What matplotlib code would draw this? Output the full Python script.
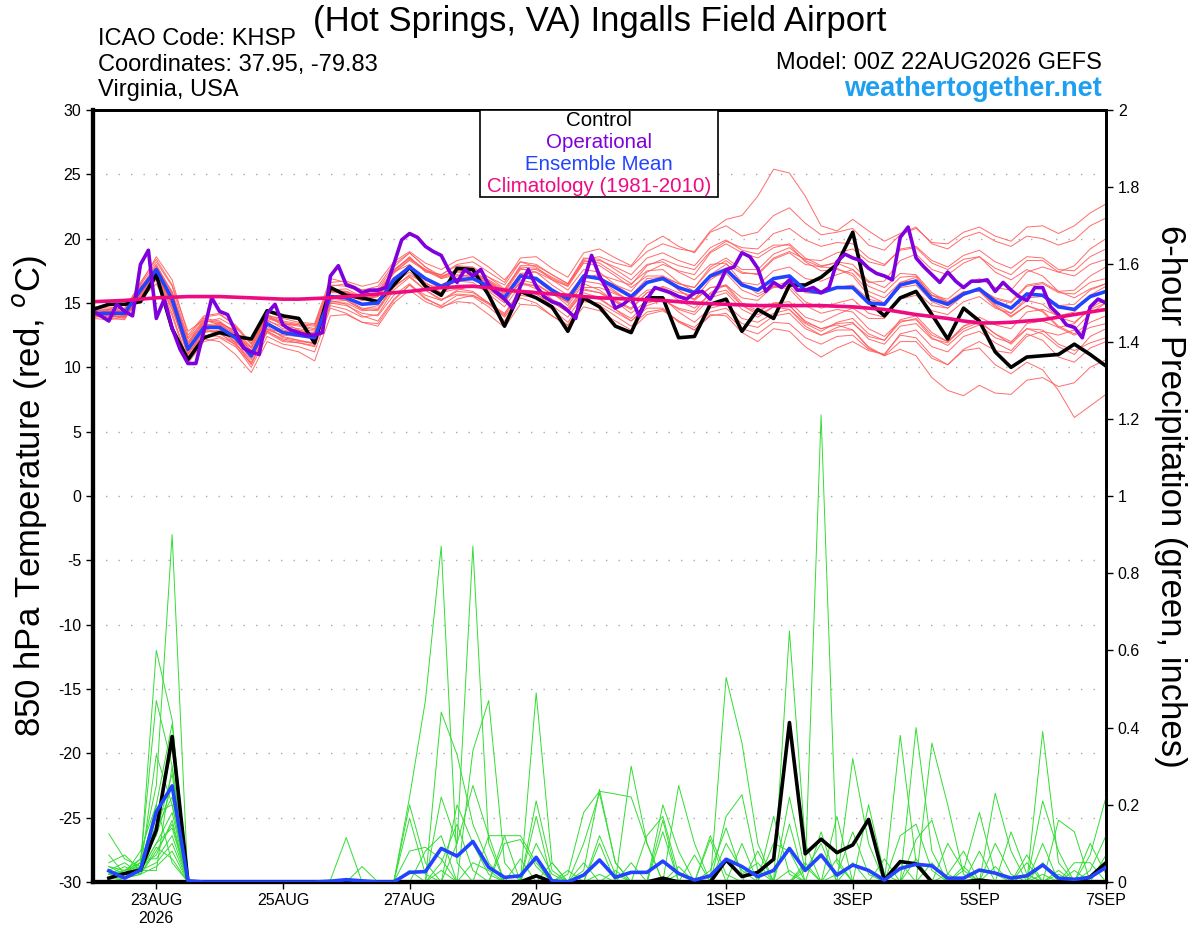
import pandas as pd
import matplotlib
matplotlib.use('Agg')
import matplotlib.pyplot as plt
from matplotlib.patches import Rectangle
from matplotlib.ticker import FormatStrFormatter

plt.rcParams['font.family'] = ['Liberation Sans', 'DejaVu Sans']
plt.rcParams['axes.unicode_minus'] = False

# ---- data ----
run_start = '2026-08-22 00:00'

tick_dates = ['2026-08-23', '2026-08-25', '2026-08-27', '2026-08-29',
              '2026-09-01', '2026-09-03', '2026-09-05', '2026-09-07']
tick_labels = ['23AUG\n2026', '25AUG', '27AUG', '29AUG', '1SEP', '3SEP', '5SEP', '7SEP']

# 850 hPa temperature, 6-hourly from 22AUG 00Z
control_temp = [14.5, 14.9, 14.9, 15.1, 17.2, 13.0, 10.6, 12.3,
                12.7, 12.4, 12.2, 14.4, 14.0, 13.8, 11.9, 16.2,
                15.6, 15.4, 15.1, 16.4, 17.8, 16.3, 15.6, 17.7,
                17.6, 15.6, 13.2, 15.9, 15.4, 14.7, 12.8, 15.4,
                14.7, 13.2, 12.7, 15.4, 15.4, 12.3, 12.4, 14.9,
                15.3, 12.8, 14.5, 13.8, 16.4, 16.4, 17.0, 18.0,
                20.5, 15.1, 14.0, 15.4, 15.9, 14.1, 12.2, 14.6,
                13.6, 11.2, 10.0, 10.8, 10.9, 11.0, 11.8, 11.0,
                10.1]

mean_temp = [14.2, 14.2, 14.2, 16.0, 17.6, 15.3, 11.4, 13.1,
             13.1, 12.3, 10.9, 13.4, 12.7, 12.5, 12.3, 15.5,
             15.4, 14.9, 15.0, 16.8, 17.8, 16.9, 16.3, 16.8,
             16.9, 16.3, 15.4, 17.1, 16.9, 16.0, 15.3, 17.1,
             16.9, 16.2, 15.5, 16.6, 16.9, 16.2, 15.8, 17.1,
             17.6, 16.4, 16.0, 16.9, 17.1, 16.0, 15.8, 16.2,
             16.2, 15.0, 14.9, 16.4, 16.7, 15.3, 14.9, 15.7,
             16.1, 15.1, 14.6, 15.7, 15.6, 14.7, 14.5, 15.5,
             15.9]

clim_temp = [15.1, 15.15, 15.2, 15.3, 15.4, 15.45, 15.5, 15.5,
             15.5, 15.45, 15.4, 15.35, 15.3, 15.3, 15.35, 15.4,
             15.5, 15.6, 15.7, 15.8, 15.9, 16.05, 16.2, 16.25,
             16.3, 16.2, 16.0, 15.9, 15.8, 15.7, 15.6, 15.5,
             15.4, 15.35, 15.3, 15.25, 15.2, 15.1, 15.0, 14.95,
             14.9, 14.85, 14.8, 14.8, 14.8, 14.8, 14.8, 14.75,
             14.7, 14.6, 14.5, 14.3, 14.1, 13.95, 13.8, 13.6,
             13.45, 13.45, 13.5, 13.6, 13.7, 13.9, 14.1, 14.3,
             14.5]

# operational run, 3-hourly
oper_temp = [14.35, 14.0, 13.6, 14.9, 14.35, 14.0, 18.0, 19.1, 13.8, 15.3,
             13.05, 11.4, 10.3, 10.3, 12.8, 15.4, 14.35, 14.1, 12.8, 11.5,
             11.2, 11.0, 14.2, 14.9, 13.3, 12.9, 12.7, 12.5, 12.5, 12.7,
             17.1, 17.9, 16.4, 16.2, 15.8, 16.0, 16.0, 16.2, 18.0, 19.9,
             20.4, 20.1, 19.4, 19.0, 18.7, 17.5, 16.6, 17.6, 17.1, 17.6,
             16.4, 15.8, 15.3, 14.6, 16.3, 17.6, 16.3, 15.5, 15.1, 14.9,
             14.4, 13.8, 16.7, 18.7, 17.1, 16.0, 14.6, 14.9, 15.4, 14.0,
             15.3, 16.2, 16.0, 15.8, 15.5, 15.3, 15.8, 15.9, 15.3, 16.3,
             17.6, 17.8, 18.9, 18.6, 17.7, 15.9, 16.6, 16.2, 16.8, 16.0,
             16.0, 16.2, 15.8, 16.2, 18.2, 18.8, 18.5, 18.3, 17.7, 17.3,
             17.1, 16.8, 20.1, 20.9, 18.5, 17.8, 17.2, 16.6, 17.4, 16.7,
             16.2, 16.7, 16.7, 16.8, 15.9, 16.6, 16.0, 15.5, 15.2, 16.2,
             16.2, 14.7, 14.1, 13.3, 13.1, 12.3, 14.7, 15.3, 15.0]

temp_members = [
    [14.5, 14.4, 14.3, 16.4, 18.2, 16.3, 12.2, 13.6, 13.5, 12.8, 11.2, 13.9, 13.4, 13.2, 12.9, 16.0,
     16.1, 15.5, 15.8, 17.5, 18.6, 17.4, 17.2, 17.9, 17.8, 17.0, 16.4, 18.2, 18.0, 17.2, 16.5, 18.4,
     18.6, 18.1, 17.8, 19.0, 19.6, 19.2, 19.0, 20.6, 21.5, 21.8, 23.3, 25.4, 25.1, 23.3, 21.0, 20.6,
     21.5, 20.6, 19.8, 20.4, 20.9, 19.6, 19.2, 20.1, 20.5, 19.8, 19.4, 20.2, 20.0, 19.5, 19.9, 21.0, 21.6],
    [14.0, 14.1, 14.4, 15.8, 17.4, 15.0, 11.8, 13.3, 13.4, 12.5, 11.5, 13.9, 13.5, 12.9, 12.6, 15.9,
     15.9, 15.2, 15.6, 17.4, 18.3, 17.5, 17.2, 18.0, 18.2, 17.4, 16.6, 18.5, 18.6, 17.7, 17.0, 18.9,
     19.2, 18.5, 17.9, 19.5, 20.2, 19.4, 18.9, 20.5, 21.0, 20.2, 20.5, 21.8, 22.4, 21.2, 20.3, 20.5,
     20.8, 19.5, 19.1, 20.3, 20.8, 19.7, 19.6, 20.5, 20.9, 20.2, 19.8, 20.9, 21.0, 20.4, 21.0, 22.0, 22.7],
    [14.3, 14.0, 13.8, 15.4, 16.8, 14.2, 10.5, 12.2, 12.0, 11.0, 9.6, 12.0, 11.5, 11.2, 10.5, 14.0,
     14.1, 13.5, 13.4, 15.2, 16.4, 15.3, 14.8, 15.6, 15.5, 14.7, 13.6, 15.6, 15.4, 14.5, 13.5, 15.2,
     14.8, 14.0, 13.2, 14.3, 14.5, 13.6, 12.9, 14.0, 14.2, 13.0, 12.6, 13.5, 13.4, 12.3, 11.8, 12.4,
     12.5, 11.4, 11.0, 12.5, 12.3, 10.9, 10.2, 11.3, 11.5, 10.2, 9.5, 10.4, 9.8, 8.2, 6.1, 7.0, 7.9],
    [14.1, 13.9, 14.0, 15.6, 17.0, 14.6, 11.0, 12.9, 12.6, 11.9, 10.4, 12.7, 12.0, 11.9, 11.6, 14.8,
     14.5, 13.9, 14.1, 16.0, 17.0, 16.0, 15.2, 15.9, 15.8, 15.0, 14.1, 16.0, 15.7, 14.8, 13.9, 15.6,
     15.3, 14.5, 13.6, 14.6, 14.6, 13.5, 12.9, 14.1, 14.0, 12.7, 12.0, 13.0, 12.8, 11.6, 10.8, 11.5,
     12.0, 11.3, 11.0, 12.6, 12.9, 11.6, 11.2, 12.4, 12.8, 11.9, 11.3, 12.6, 12.1, 10.8, 10.4, 11.5, 12.0],
    [14.4, 14.5, 14.6, 16.5, 18.6, 16.8, 12.5, 14.0, 14.2, 13.2, 11.8, 14.0, 13.8, 13.5, 13.4, 16.9,
     16.6, 16.0, 16.1, 17.8, 18.9, 17.8, 17.1, 17.5, 17.4, 16.6, 15.6, 17.3, 16.8, 15.8, 14.8, 16.5,
     16.0, 15.1, 14.2, 15.2, 15.4, 14.3, 13.5, 14.6, 14.9, 13.8, 13.5, 14.2, 14.5, 13.4, 12.8, 13.5,
     13.8, 12.6, 12.1, 13.7, 14.0, 12.7, 12.0, 13.2, 13.6, 12.6, 11.8, 13.0, 12.6, 11.6, 11.0, 12.4, 13.0],
    [14.0, 13.8, 13.7, 15.9, 17.8, 15.9, 12.0, 13.4, 13.0, 12.1, 10.7, 13.0, 12.4, 12.1, 11.8, 15.1,
     15.2, 14.5, 14.8, 16.6, 17.4, 16.3, 15.8, 16.4, 16.4, 15.9, 15.0, 16.8, 16.5, 15.7, 15.1, 17.0,
     16.9, 16.4, 15.9, 17.4, 18.0, 17.5, 17.2, 18.9, 19.6, 18.9, 18.5, 19.3, 19.6, 18.5, 17.9, 18.1,
     17.6, 16.3, 15.8, 17.0, 17.1, 15.6, 15.0, 15.8, 16.0, 14.9, 14.2, 15.2, 14.9, 13.9, 13.5, 14.5, 15.0],
    [14.6, 14.7, 14.5, 16.3, 17.4, 14.8, 10.8, 12.7, 12.9, 12.4, 11.0, 13.7, 13.0, 12.9, 12.6, 15.4,
     15.2, 14.5, 14.4, 16.2, 17.2, 16.5, 16.1, 16.9, 17.3, 16.8, 16.0, 17.9, 17.9, 17.2, 16.5, 18.5,
     18.4, 17.6, 16.8, 18.0, 18.2, 17.4, 16.8, 18.0, 18.1, 16.6, 15.7, 16.3, 16.1, 14.8, 14.2, 14.5,
     14.3, 13.0, 12.4, 13.6, 13.7, 12.3, 11.7, 12.8, 13.3, 12.3, 11.9, 13.4, 13.6, 13.1, 13.4, 14.6, 15.3],
    [14.2, 14.0, 13.9, 15.5, 16.9, 14.5, 11.2, 13.0, 13.4, 12.8, 11.6, 14.0, 13.5, 13.3, 13.0, 16.3,
     16.5, 16.0, 16.3, 18.0, 18.9, 17.8, 16.9, 17.2, 17.0, 16.2, 15.1, 16.6, 16.3, 15.3, 14.6, 16.1,
     15.8, 15.2, 14.6, 15.8, 16.2, 15.6, 15.3, 16.8, 17.6, 16.6, 16.4, 17.5, 17.8, 16.9, 16.7, 17.2,
     17.6, 16.6, 16.7, 18.3, 18.8, 17.6, 17.2, 18.1, 18.6, 17.7, 17.2, 18.3, 18.3, 17.4, 17.1, 18.0, 18.4],
    [13.9, 14.0, 14.2, 15.7, 17.2, 15.5, 11.9, 13.8, 13.6, 12.6, 11.0, 13.2, 12.3, 12.1, 11.9, 15.0,
     14.8, 14.2, 14.0, 15.6, 16.5, 15.4, 14.7, 15.1, 15.0, 14.1, 13.1, 14.9, 14.8, 14.0, 13.3, 15.1,
     15.0, 14.3, 13.6, 14.8, 15.2, 14.6, 14.3, 15.8, 16.4, 15.4, 15.2, 16.3, 16.7, 15.8, 15.7, 16.2,
     16.4, 15.3, 15.0, 16.6, 17.0, 15.6, 15.1, 15.8, 16.0, 14.8, 13.9, 14.8, 14.4, 13.2, 12.6, 13.5, 14.0],
    [14.5, 14.3, 14.1, 16.1, 17.9, 15.7, 11.6, 13.2, 13.0, 11.9, 10.2, 12.8, 12.2, 12.0, 11.9, 15.3,
     15.6, 15.2, 15.5, 17.3, 18.4, 17.6, 17.0, 17.6, 17.7, 17.0, 16.1, 17.7, 17.4, 16.4, 15.6, 17.2,
     16.8, 15.9, 15.0, 16.0, 16.1, 15.2, 14.6, 15.7, 16.0, 14.8, 14.3, 15.0, 15.1, 13.9, 13.5, 14.1,
     14.6, 13.8, 13.8, 15.4, 15.9, 14.8, 14.6, 15.6, 16.1, 15.4, 15.1, 16.4, 16.6, 15.9, 16.0, 17.1, 17.8],
    [14.3, 14.2, 14.0, 15.9, 17.6, 15.2, 11.3, 13.3, 13.2, 12.5, 11.2, 13.4, 12.9, 12.7, 12.4, 15.6,
     15.3, 14.6, 14.6, 16.3, 17.1, 16.0, 15.3, 15.7, 15.6, 14.9, 14.0, 15.8, 15.7, 15.0, 14.4, 16.2,
     16.2, 15.7, 15.2, 16.5, 17.0, 16.5, 16.2, 17.6, 18.3, 17.4, 17.2, 18.4, 18.9, 18.0, 17.8, 18.2,
     18.0, 16.7, 16.2, 17.3, 17.2, 15.8, 15.1, 15.9, 15.9, 14.7, 14.0, 14.8, 14.3, 13.1, 12.5, 13.1, 13.4],
    [14.0, 14.3, 14.5, 16.2, 17.3, 15.6, 12.3, 13.9, 14.1, 13.3, 11.9, 14.1, 13.6, 13.4, 13.3, 16.6,
     16.7, 16.3, 16.6, 18.2, 19.0, 18.1, 17.6, 18.3, 18.6, 17.8, 16.8, 18.2, 17.8, 16.8, 16.0, 17.6,
     17.4, 16.4, 15.6, 16.9, 17.0, 16.0, 15.3, 16.2, 16.4, 15.0, 14.4, 15.0, 14.8, 13.5, 13.0, 13.4,
     13.5, 12.2, 11.8, 13.2, 13.4, 12.2, 11.9, 13.2, 13.9, 13.3, 13.0, 14.3, 14.5, 14.0, 14.3, 15.6, 16.3],
    [14.4, 14.1, 13.9, 15.6, 17.5, 15.0, 11.1, 12.5, 12.4, 11.8, 10.6, 13.0, 12.7, 12.6, 12.5, 15.8,
     15.8, 15.3, 15.1, 16.9, 17.8, 16.8, 16.2, 16.7, 16.6, 15.7, 14.7, 16.4, 16.4, 15.7, 15.1, 17.0,
     17.2, 16.8, 16.4, 17.9, 18.4, 17.9, 17.6, 19.0, 19.8, 19.3, 19.2, 20.4, 20.8, 19.9, 19.4, 19.7,
     19.6, 18.5, 18.0, 19.1, 19.3, 18.1, 17.6, 18.4, 18.6, 17.4, 16.8, 17.6, 17.1, 15.9, 15.4, 16.1, 16.5],
    [14.1, 14.2, 14.3, 16.0, 17.7, 15.4, 11.5, 13.0, 12.7, 11.7, 10.0, 12.4, 11.8, 11.6, 11.2, 14.6,
     14.2, 13.5, 13.2, 15.0, 16.0, 15.1, 14.6, 15.3, 15.6, 15.0, 14.2, 16.0, 15.9, 15.1, 14.3, 15.8,
     15.4, 14.5, 13.8, 15.0, 15.3, 14.5, 14.1, 15.4, 15.8, 14.5, 13.9, 14.7, 14.8, 13.6, 13.0, 13.3,
     12.9, 11.6, 10.9, 11.4, 10.9, 9.2, 8.2, 7.8, 8.6, 8.0, 7.9, 9.0, 9.2, 8.5, 8.8, 10.0, 10.6],
    [14.7, 14.6, 14.4, 16.6, 18.4, 16.4, 12.8, 13.7, 13.3, 12.2, 10.8, 12.8, 12.1, 11.9, 11.7, 15.0,
     15.0, 14.4, 14.5, 16.4, 17.6, 16.8, 16.4, 17.1, 17.2, 16.7, 15.9, 17.8, 17.7, 17.0, 16.4, 18.3,
     18.1, 17.3, 16.5, 17.5, 17.6, 16.6, 15.9, 17.0, 17.3, 16.0, 15.5, 16.2, 16.3, 15.1, 14.6, 15.0,
     15.3, 14.2, 13.9, 15.3, 15.6, 14.4, 14.1, 15.1, 15.5, 14.6, 14.2, 15.4, 15.5, 14.8, 14.9, 16.0, 16.5],
    [13.8, 13.7, 13.9, 15.3, 16.5, 14.0, 10.3, 12.0, 12.3, 11.6, 10.3, 12.9, 12.5, 12.4, 12.3, 15.5,
     15.7, 15.3, 15.6, 17.5, 18.5, 17.6, 17.0, 17.5, 17.5, 16.7, 15.7, 17.2, 16.9, 15.9, 15.0, 16.7,
     16.5, 15.8, 15.2, 16.6, 17.1, 16.5, 16.2, 17.8, 18.5, 17.6, 17.6, 18.8, 19.3, 18.3, 17.8, 17.7,
     17.1, 15.6, 15.0, 16.2, 16.4, 15.1, 14.6, 15.6, 16.1, 15.3, 15.0, 16.3, 16.5, 15.8, 15.7, 16.6, 16.9],
    [14.2, 14.4, 14.2, 16.2, 18.0, 15.8, 11.8, 13.5, 13.8, 13.1, 11.8, 14.1, 13.2, 12.8, 12.4, 15.2,
     14.9, 14.0, 13.6, 15.3, 16.4, 15.6, 15.2, 16.0, 16.4, 16.0, 15.3, 17.3, 17.4, 16.8, 16.3, 18.2,
     18.3, 17.8, 17.2, 18.5, 18.9, 18.3, 17.9, 19.3, 19.9, 19.1, 18.8, 19.5, 19.5, 18.2, 17.5, 17.6,
     17.3, 15.9, 15.4, 16.6, 16.8, 15.6, 15.3, 16.3, 16.9, 16.2, 16.0, 17.4, 17.8, 17.4, 17.9, 19.2, 20.0],
    [14.3, 14.1, 14.1, 15.8, 17.1, 14.8, 11.4, 13.1, 13.3, 12.6, 11.3, 13.6, 13.2, 13.0, 12.8, 16.0,
     15.9, 15.4, 15.5, 17.0, 17.7, 16.6, 15.8, 16.1, 15.9, 15.0, 13.9, 15.4, 15.0, 14.0, 13.2, 14.7,
     14.4, 13.6, 12.9, 14.1, 14.4, 13.6, 13.1, 14.3, 14.6, 13.4, 13.1, 14.0, 14.2, 13.0, 12.5, 13.1,
     13.4, 12.4, 12.1, 13.5, 13.8, 12.5, 12.0, 13.0, 13.5, 12.6, 12.0, 13.0, 12.9, 11.8, 11.3, 11.9, 12.3],
    [14.0, 13.9, 14.0, 15.5, 17.0, 15.1, 11.7, 13.6, 13.5, 12.8, 11.5, 13.8, 13.4, 13.3, 13.2, 16.4,
     16.3, 15.8, 15.9, 17.6, 18.5, 17.5, 16.9, 17.4, 17.3, 16.4, 15.2, 16.6, 16.1, 15.1, 14.3, 16.0,
     15.8, 15.1, 14.5, 15.8, 16.3, 15.8, 15.6, 17.2, 18.0, 17.3, 17.3, 18.5, 19.0, 18.4, 18.3, 18.9,
     19.2, 18.2, 17.9, 19.2, 19.4, 18.3, 17.8, 18.7, 19.1, 18.2, 17.7, 18.6, 18.5, 17.6, 17.5, 18.6, 19.2],
    [14.6, 14.5, 14.3, 16.0, 17.3, 14.9, 11.0, 12.8, 12.8, 12.0, 10.8, 13.3, 12.8, 12.7, 12.7, 15.9,
     15.9, 15.5, 15.7, 17.4, 18.0, 16.8, 16.1, 16.7, 17.1, 16.6, 15.8, 17.6, 17.6, 16.9, 16.3, 18.1,
     17.9, 17.1, 16.2, 17.1, 17.1, 16.0, 15.2, 16.2, 16.3, 14.8, 14.1, 14.7, 14.5, 13.2, 12.5, 12.9,
     12.9, 11.5, 10.9, 12.0, 12.0, 10.7, 10.2, 11.4, 12.0, 11.3, 11.1, 12.4, 12.8, 12.5, 12.9, 14.2, 15.0],
]

# 6-hour precipitation (inches), valid 22AUG 06Z .. 7SEP 00Z
control_precip = [0.01, 0.022, 0.031, 0.135, 0.377, 0.001, 0, 0,
                  0, 0, 0, 0, 0, 0, 0, 0,
                  0, 0, 0, 0, 0, 0, 0, 0,
                  0, 0, 0, 0.016, 0, 0, 0, 0,
                  0, 0, 0, 0.01, 0, 0, 0, 0.057,
                  0.014, 0.025, 0.059, 0.413, 0.073, 0.111, 0.076, 0.096,
                  0.162, 0.005, 0.053, 0.047, 0, 0, 0, 0.005,
                  0, 0, 0, 0, 0, 0, 0.013, 0.05]

mean_precip = [0.029, 0.01, 0.031, 0.182, 0.249, 0.003, 0, 0,
               0, 0, 0, 0, 0, 0, 0.002, 0.006,
               0.003, 0, 0, 0.025, 0.027, 0.087, 0.067, 0.105,
               0.038, 0.012, 0.016, 0.064, 0.003, 0, 0.018, 0.057,
               0.012, 0.025, 0.025, 0.054, 0.022, 0.005, 0.016, 0.059,
               0.04, 0.014, 0.03, 0.087, 0.03, 0.07, 0.018, 0.044,
               0.03, 0.005, 0.035, 0.046, 0.042, 0.01, 0.01, 0.031,
               0.023, 0.01, 0.016, 0.044, 0.01, 0.007, 0.012, 0.038]

precip_members = [
    [.125, .06, .04, .60, .42, 0, 0, 0, 0, 0, 0, 0, 0, 0, 0, 0,
     0, 0, 0, 0, 0, .05, .15, .03, 0, 0, 0, .21, .03, 0, 0, .02,
     0, 0, 0, 0, 0, 0, .12, .02, 0, 0, 0, .03, 0, 0, .02, .13,
     .02, 0, .05, 0, 0, 0, 0, 0, 0, 0, 0, .02, 0, 0, .03, .12],
    [.07, .02, .05, .47, .30, 0, 0, 0, 0, 0, 0, 0, 0, 0, 0, 0,
     0, 0, 0, 0, 0, 0, .20, .10, .02, 0, 0, .17, 0, 0, 0, 0,
     0, 0, 0, 0, .02, 0, 0, .17, .226, .03, 0, 0, 0, 0, 0, 0,
     0, 0, .38, .05, 0, 0, 0, 0, 0, 0, .02, 0, 0, 0, 0, .07],
    [.05, .07, .03, .33, .20, 0, 0, 0, 0, 0, 0, 0, 0, 0, 0, 0,
     0, 0, 0, 0, 0, 0, 0, .05, .03, 0, 0, .10, .02, 0, 0, 0,
     0, 0, 0, 0, 0, 0, .03, .14, .02, .05, 0, 0, 0, 0, 0, 0,
     0, 0, .12, .15, .03, 0, 0, 0, .04, 0, 0, 0, 0, 0, 0, 0],
    [.04, .03, .06, .25, .90, 0, 0, 0, 0, 0, 0, 0, 0, 0, 0, 0,
     0, 0, 0, 0, 0, .03, 0, 0, 0, 0, 0, 0, .05, 0, 0, 0,
     0, 0, 0, 0, 0, 0, 0, .10, .03, 0, 0, 0, .04, 0, 0, 0,
     0, 0, 0, .40, .08, 0, 0, 0, 0, 0, .05, 0, 0, 0, 0, 0],
    [.03, .02, .08, .20, .41, 0, 0, 0, 0, 0, 0, 0, 0, 0, 0, 0,
     0, 0, 0, 0, 0, 0, 0, 0, 0, 0, 0, 0, 0, .02, .18, .235,
     .228, .22, .10, 0, 0, 0, 0, 0, 0, 0, 0, 0, 0, 0, 0, 0,
     0, 0, 0, .11, .16, .02, 0, 0, 0, 0, 0, 0, .03, 0, 0, 0],
    [.02, .01, .04, .15, .35, 0, 0, 0, 0, 0, 0, 0, 0, 0, .005, .115,
     0, 0, 0, 0, 0, 0, 0, 0, 0, 0, 0, 0, 0, 0, .05, 0,
     .03, 0, 0, 0, 0, 0, 0, 0, .10, 0, 0, 0, 0, 0, 0, 0,
     0, 0, 0, 0, .36, .20, .02, 0, 0, 0, 0, 0, 0, 0, 0, 0],
    [.02, .04, .02, .13, .28, 0, 0, 0, 0, 0, 0, 0, 0, 0, 0, 0,
     .04, 0, 0, 0, 0, 0, 0, 0, 0, 0, 0, 0, 0, 0, .10, .23,
     .05, 0, 0, 0, 0, 0, 0, 0, 0, .08, 0, 0, 0, 0, 0, 0,
     0, 0, 0, 0, 0, .10, .03, 0, 0, 0, 0, 0, 0, 0, .10, .02],
    [.01, .02, .05, .12, .25, 0, 0, 0, 0, 0, 0, 0, 0, 0, 0, 0,
     0, 0, 0, 0, 0, 0, 0, 0, 0, 0, 0, 0, 0, 0, .03, .24,
     .05, 0, 0, 0, 0, 0, 0, 0, 0, 0, .17, .02, 0, 0, 0, 0,
     0, 0, 0, 0, 0, .02, .08, 0, 0, 0, 0, .05, 0, 0, 0, 0],
    [.01, .01, .03, .10, .18, 0, 0, 0, 0, 0, 0, 0, 0, 0, 0, 0,
     0, 0, 0, .165, .02, 0, 0, 0, 0, 0, 0, 0, 0, 0, 0, .12,
     .02, 0, 0, 0, .04, 0, 0, 0, 0, 0, .10, .08, 0, 0, 0, 0,
     0, 0, 0, 0, 0, 0, .03, .18, .02, 0, 0, 0, 0, .03, 0, 0],
    [.03, .05, .02, .08, .15, 0, 0, 0, 0, 0, 0, 0, 0, 0, 0, 0,
     0, 0, 0, .08, .09, .06, 0, 0, 0, 0, 0, 0, 0, 0, 0, .10,
     0, 0, 0, 0, 0, 0, 0, 0, 0, 0, 0, .65, .10, 0, 0, 0,
     0, 0, 0, 0, 0, 0, 0, .08, 0, 0, 0, 0, .02, 0, 0, 0],
    [.01, .02, .06, .06, .12, 0, 0, 0, 0, 0, 0, 0, 0, 0, 0, 0,
     0, 0, 0, .03, 0, 0, 0, 0, 0, 0, .06, 0, 0, 0, 0, 0,
     0, .30, .10, 0, 0, 0, 0, 0, 0, 0, 0, .22, .03, .10, 0, 0,
     0, 0, 0, 0, 0, 0, .04, 0, .23, .08, 0, 0, 0, 0, 0, 0],
    [0, .01, .03, .05, .10, 0, 0, 0, 0, 0, 0, 0, 0, 0, 0, 0,
     0, 0, 0, .22, .47, .87, .05, 0, 0, 0, 0, 0, 0, .03, 0, 0,
     0, .05, 0, 0, 0, 0, 0, 0, 0, 0, 0, .15, 0, 0, 0, 0,
     0, 0, 0, 0, .05, 0, 0, 0, .10, .02, 0, 0, 0, 0, 0, 0],
    [.02, .01, .02, .04, .08, 0, 0, 0, 0, 0, 0, 0, 0, 0, 0, 0,
     0, 0, 0, 0, 0, .44, .33, .15, .05, 0, 0, 0, 0, 0, 0, 0,
     0, 0, .12, .17, .02, 0, 0, 0, 0, 0, 0, 0, .05, 0, 0, 0,
     0, 0, 0, 0, 0, 0, 0, 0, 0, .13, .02, 0, 0, 0, 0, 0],
    [.01, .03, .04, .20, .05, 0, 0, 0, 0, 0, 0, 0, 0, 0, 0, 0,
     0, 0, 0, 0, 0, 0, .10, .87, .10, 0, 0, 0, 0, 0, 0, 0,
     0, 0, 0, .20, .08, 0, 0, 0, 0, 0, 0, 0, .03, 1.21, .05, 0,
     0, 0, 0, 0, 0, 0, 0, 0, 0, 0, .07, 0, 0, 0, 0, 0],
    [.04, .02, .03, .10, .14, 0, 0, 0, 0, 0, 0, 0, 0, 0, 0, 0,
     0, 0, 0, 0, 0, 0, 0, .34, .47, .05, 0, 0, 0, 0, 0, 0,
     0, 0, 0, .16, 0, 0, 0, 0, 0, 0, 0, 0, 0, .13, 0, 0,
     0, 0, 0, 0, 0, 0, 0, 0, 0, 0, 0, .39, .05, 0, 0, 0],
    [.02, .03, .05, .18, .20, 0, 0, 0, 0, 0, 0, 0, 0, 0, 0, 0,
     0, 0, 0, 0, 0, .22, .10, .25, .12, 0, 0, 0, 0, 0, 0, 0,
     0, 0, 0, .13, 0, 0, 0, 0, 0, 0, 0, 0, 0, 0, .17, 0,
     0, 0, 0, 0, 0, 0, 0, 0, 0, 0, 0, .21, .08, 0, 0, 0],
    [.01, .02, .04, .14, .22, 0, 0, 0, 0, 0, 0, 0, 0, 0, 0, 0,
     0, 0, 0, 0, .08, .12, 0, 0, .12, .12, 0, 0, 0, 0, 0, 0,
     0, 0, 0, 0, .25, .10, 0, 0, 0, 0, 0, 0, 0, 0, 0, .32,
     .10, 0, 0, 0, 0, 0, 0, 0, 0, 0, 0, .10, 0, 0, 0, 0],
    [0, .01, .02, .09, .06, 0, 0, 0, 0, 0, 0, 0, 0, 0, 0, 0,
     0, 0, 0, .20, .05, 0, 0, 0, 0, .12, .12, .05, 0, 0, 0, 0,
     0, 0, 0, 0, 0, .07, 0, 0, 0, 0, 0, 0, 0, 0, .06, 0,
     .20, .02, 0, 0, 0, 0, 0, 0, 0, 0, 0, 0, .16, .13, 0, 0],
    [.03, .02, .04, .07, .16, 0, 0, 0, 0, 0, 0, 0, 0, 0, 0, 0,
     0, 0, 0, 0, 0, 0, 0, 0, 0, .10, .11, .04, 0, 0, 0, 0,
     0, 0, 0, 0, 0, 0, .11, 0, 0, 0, 0, 0, 0, 0, 0, .05,
     0, .06, 0, 0, 0, 0, 0, 0, 0, 0, 0, 0, 0, .05, .05, 0],
    [.02, .01, .03, .03, .30, 0, 0, 0, 0, 0, 0, 0, 0, 0, 0, 0,
     0, 0, 0, 0, 0, 0, 0, 0, 0, 0, 0, .49, .05, 0, 0, 0,
     0, 0, 0, 0, 0, 0, 0, .53, .36, .10, 0, 0, 0, 0, 0, 0,
     0, 0, 0, .06, 0, 0, 0, 0, 0, 0, 0, 0, 0, 0, .07, .22],
]

# ---- time axes ----
t6 = pd.date_range(run_start, periods=len(control_temp), freq='6h')
t3 = pd.date_range(run_start, periods=len(oper_temp), freq='3h')
tp = t6[1:]

W, H = 1200, 927
fig = plt.figure(figsize=(W / 100, H / 100), dpi=100)
ax = fig.add_axes([93 / W, 1 - 882 / H, (1106 - 93) / W, (882 - 110) / H])
ax2 = ax.twinx()

RED = '#ff5c5c'
GREEN = '#33dd33'
PURPLE = '#7f00dd'
BLUE = '#2244ff'
PINK = '#ee0a80'

for m in temp_members:
    ax.plot(t6, m, color=RED, lw=0.7, alpha=0.9, zorder=2)
ax.plot(t6, control_temp, color='black', lw=2.6, zorder=4)
ax.plot(t6, mean_temp, color=BLUE, lw=2.6, zorder=5)
ax.plot(t3, oper_temp, color=PURPLE, lw=2.6, zorder=5)
ax.plot(t6, clim_temp, color=PINK, lw=2.6, zorder=6)

for m in precip_members:
    ax2.plot(tp, m, color=GREEN, lw=0.7, zorder=2)
ax2.plot(tp, control_precip, color='black', lw=2.6, zorder=4)
ax2.plot(tp, mean_precip, color=BLUE, lw=2.6, zorder=5)

ax.set_ylim(-30, 30)
ax.set_yticks(range(-30, 31, 5))
ax2.set_ylim(0, 2)
ax2.set_yticks([0, 0.2, 0.4, 0.6, 0.8, 1.0, 1.2, 1.4, 1.6, 1.8, 2.0])
ax2.yaxis.set_major_formatter(FormatStrFormatter('%g'))

ax.set_xlim(pd.Timestamp(run_start), pd.Timestamp('2026-09-07'))
ax.set_xticks(pd.to_datetime(tick_dates))
ax.set_xticklabels(tick_labels)

for g in range(-25, 30, 5):
    ax.axhline(g, color='#aaaaaa', lw=1, ls=(0, (1, 8)), zorder=1)

for a in (ax, ax2):
    a.tick_params(labelsize=11.5, length=5, width=1, direction='out')
    for s in ('left', 'bottom'):
        a.spines[s].set_linewidth(3)
    for s in ('right', 'top'):
        a.spines[s].set_linewidth(2)
ax.tick_params(axis='x', pad=3)

# ---- header texts ----
fig.text(0.5, 1 - 21 / H, '(Hot Springs, VA) Ingalls Field Airport',
         ha='center', va='center', fontsize=25)
fig.text(98 / W, 1 - 39 / H, 'ICAO Code: KHSP', ha='left', va='center', fontsize=17)
fig.text(98 / W, 1 - 65 / H, 'Coordinates: 37.95, -79.83', ha='left', va='center', fontsize=17)
fig.text(98 / W, 1 - 90 / H, 'Virginia, USA', ha='left', va='center', fontsize=17)
fig.text(1102 / W, 1 - 63 / H, 'Model: 00Z 22AUG2026 GEFS', ha='right', va='center', fontsize=17)
fig.text(1102 / W, 1 - 89 / H, 'weathertogether.net', ha='right', va='center',
         fontsize=19.5, fontweight='bold', color='#1e9ff0')

# legend box
fig.add_artist(Rectangle((480 / W, 1 - 197 / H), (718 - 480) / W, (197 - 110) / H,
                         transform=fig.transFigure, facecolor='white',
                         edgecolor='black', lw=1.2, zorder=10))
legend_items = [('Control', 'black'), ('Operational', PURPLE),
                ('Ensemble Mean', BLUE), ('Climatology (1981-2010)', PINK)]
for k, (txt, col) in enumerate(legend_items):
    fig.text(599 / W, 1 - (121 + 21.8 * k) / H, txt, ha='center', va='center',
             fontsize=14.8, color=col, zorder=11)

fig.text(30 / W, 1 - 496 / H, '850 hPa Temperature (red, $^{o}$C)', rotation=90,
         ha='center', va='center', fontsize=25)
fig.text(1170 / W, 1 - 496 / H, '6-hour Precipitation (green, inches)', rotation=-90,
         ha='center', va='center', fontsize=25)

fig.savefig('out.png', dpi=100)
